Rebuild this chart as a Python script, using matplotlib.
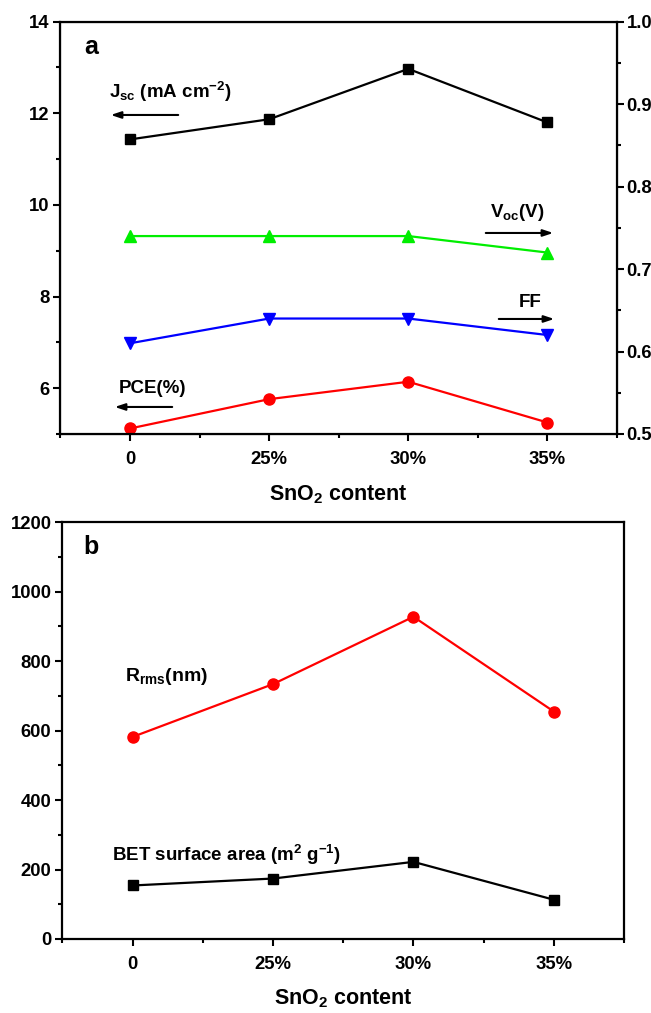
import matplotlib
matplotlib.use("Agg")
import matplotlib.pyplot as plt
from matplotlib.ticker import MultipleLocator

plt.rcParams['font.family'] = ['Liberation Sans', 'DejaVu Sans']
plt.rcParams['font.weight'] = 'bold'
plt.rcParams['mathtext.fontset'] = 'custom'
plt.rcParams['mathtext.rm'] = 'Liberation Sans:bold'
plt.rcParams['mathtext.it'] = 'Liberation Sans:bold'
plt.rcParams['mathtext.bf'] = 'Liberation Sans:bold'
plt.rcParams['mathtext.default'] = 'regular'

# ---- data ----
categories = ['0', '25%', '30%', '35%']
jsc = [11.43, 11.87, 12.97, 11.80]      # left axis
pce = [5.12, 5.76, 6.14, 5.25]          # left axis
voc = [0.74, 0.74, 0.74, 0.72]          # right axis
ff = [0.61, 0.64, 0.64, 0.62]           # right axis
rrms = [582, 734, 928, 655]
bet = [154, 174, 222, 113]

x = list(range(len(categories)))

fig = plt.figure(figsize=(6.51, 10.13), dpi=100)
ax1 = fig.add_axes([0.0929, 0.5716, 0.8549, 0.4070])
ax2 = fig.add_axes([0.0960, 0.0731, 0.8625, 0.4113])

tick_fs = 13.3
lw = 1.6
ms = 7.5
label_fs = 13.5

def style_axis(ax):
    ax.set_xlim(-0.5, 3.5)
    ax.set_xticks(x)
    ax.set_xticklabels(categories)
    ax.xaxis.set_minor_locator(MultipleLocator(0.5))
    ax.tick_params(which='both', direction='out', width=1.5, labelsize=tick_fs)
    ax.tick_params(which='major', length=5)
    ax.tick_params(which='minor', length=3)
    ax.tick_params(axis='x', pad=7)
    ax.tick_params(axis='y', pad=3)
    for s in ax.spines.values():
        s.set_linewidth(1.6)
    ax.set_xlabel('SnO$_2$ content', fontsize=15.5, fontweight='bold', labelpad=11)

# ---- panel a ----
style_axis(ax1)
ax1.set_ylim(5, 14)
ax1.set_yticks([6, 8, 10, 12, 14])
ax1.yaxis.set_minor_locator(MultipleLocator(1))
ax1.plot(x, jsc, color='black', marker='s', lw=lw, ms=ms)
ax1.plot(x, pce, color='#ff0000', marker='o', lw=lw, ms=ms + 0.5)

ax1r = ax1.twinx()
ax1r.set_ylim(0.5, 1.0)
ax1r.set_yticks([0.5, 0.6, 0.7, 0.8, 0.9, 1.0])
ax1r.yaxis.set_minor_locator(MultipleLocator(0.05))
ax1r.tick_params(which='both', direction='out', width=1.5, labelsize=tick_fs, pad=2)
ax1r.tick_params(which='major', length=5)
ax1r.tick_params(which='minor', length=3)
ax1r.plot(x, voc, color='#00ee00', marker='^', lw=lw, ms=ms + 1)
ax1r.plot(x, ff, color='#0000ff', marker='v', lw=lw, ms=ms + 1)
ax1r.set_xlim(-0.5, 3.5)

ax1.text(0.055, 0.939, 'a', transform=ax1.transAxes, fontsize=18, fontweight='bold',
         ha='center', va='center')
ax1.text(0.088, 0.829, r'J$_{sc}$ (mA cm$^{-2}$)', transform=ax1.transAxes,
         fontsize=label_fs, va='center')
ax1.text(0.105, 0.111, 'PCE(%)', transform=ax1.transAxes, fontsize=label_fs, va='center')
ax1.text(0.772, 0.536, r'V$_{oc}$(V)', transform=ax1.transAxes, fontsize=label_fs, va='center')
ax1.text(0.824, 0.318, 'FF', transform=ax1.transAxes, fontsize=label_fs, va='center')

arrow_kw = dict(arrowstyle='-|>,head_length=0.6,head_width=0.2', color='black', lw=1.5)
def arrow(ax, x0, y0, x1, y1):
    ax.annotate('', xy=(x1, y1), xycoords=ax.transAxes,
                xytext=(x0, y0), textcoords=ax.transAxes, arrowprops=arrow_kw)

# arrows (axes fraction coords)
arrow(ax1, (181 - 60.5) / 556.5, 1 - (115 - 21.7) / 412.3, (108 - 60.5) / 556.5, 1 - (115 - 21.7) / 412.3)
arrow(ax1, (175 - 60.5) / 556.5, 1 - (407 - 21.7) / 412.3, (112 - 60.5) / 556.5, 1 - (407 - 21.7) / 412.3)
arrow(ax1, (483 - 60.5) / 556.5, 1 - (233 - 21.7) / 412.3, (556 - 60.5) / 556.5, 1 - (233 - 21.7) / 412.3)
arrow(ax1, (496 - 60.5) / 556.5, 1 - (319 - 21.7) / 412.3, (557 - 60.5) / 556.5, 1 - (319 - 21.7) / 412.3)

# ---- panel b ----
style_axis(ax2)
ax2.set_ylim(0, 1200)
ax2.set_yticks(range(0, 1201, 200))
ax2.yaxis.set_minor_locator(MultipleLocator(100))
ax2.plot(x, rrms, color='#ff0000', marker='o', lw=lw, ms=ms + 0.5)
ax2.plot(x, bet, color='black', marker='s', lw=lw, ms=ms)

ax2.text(0.051, 0.941, 'b', transform=ax2.transAxes, fontsize=18, fontweight='bold',
         ha='center', va='center')
ax2.text(0.111, 0.629, r'R$_{rms}$(nm)', transform=ax2.transAxes, fontsize=14, va='center')
ax2.text(0.088, 0.2016, r'BET surface area (m$^{2}$ g$^{-1}$)', transform=ax2.transAxes,
         fontsize=label_fs, va='center')

fig.savefig('out.png', dpi=100)
